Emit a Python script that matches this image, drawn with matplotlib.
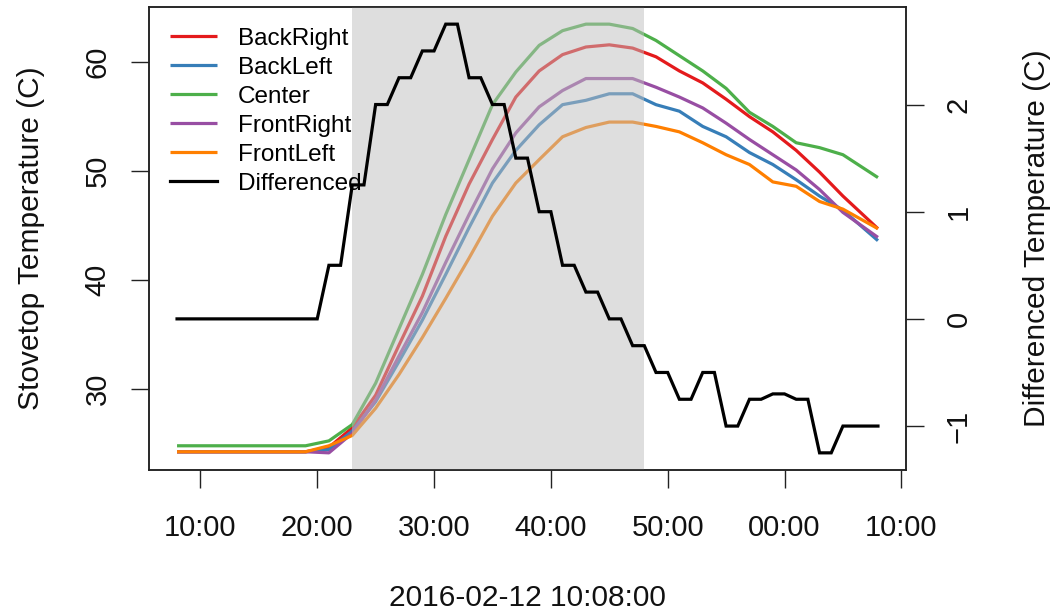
import numpy as np
import pandas as pd
import matplotlib
matplotlib.use('Agg')
import matplotlib.pyplot as plt
import matplotlib.dates as mdates

plt.rcParams['font.family'] = ['Liberation Sans', 'DejaVu Sans']

start = pd.Timestamp('2016-02-12 10:00:00')

# stovetop sensor readings, minutes after 10:00
temp_minutes = [8, 19, 21, 23, 25, 27, 29, 31, 33, 35, 37, 39, 41, 43, 45,
                47, 49, 51, 53, 55, 57, 59, 61, 63, 65, 68]
back_right = [24.2, 24.2, 24.6, 26.4, 29.4, 34.0, 38.5, 44.0, 48.8, 52.9, 56.8, 59.2, 60.7,
              61.4, 61.6, 61.3, 60.5, 59.2, 58.1, 56.6, 55.0, 53.6, 51.9, 49.9, 47.7, 44.7]
back_left = [24.2, 24.2, 24.4, 26.1, 28.8, 32.5, 36.3, 40.5, 44.8, 48.9, 51.9, 54.25, 56.1,
             56.5, 57.1, 57.1, 56.1, 55.5, 54.1, 53.15, 51.7, 50.6, 49.2, 47.7, 46.4, 43.6]
center = [24.75, 24.75, 25.2, 26.7, 30.5, 35.5, 40.5, 46.0, 51.05, 56.1, 59.1, 61.55, 62.9,
          63.5, 63.5, 63.1, 62.0, 60.6, 59.2, 57.6, 55.4, 54.1, 52.6, 52.15, 51.5, 49.4]
front_right = [24.2, 24.2, 24.1, 25.9, 28.95, 33.0, 37.0, 41.6, 46.0, 50.2, 53.5, 55.9, 57.4,
               58.5, 58.5, 58.5, 57.7, 56.8, 55.8, 54.4, 52.9, 51.5, 50.1, 48.3, 46.2, 43.9]
front_left = [24.2, 24.2, 24.75, 25.7, 28.2, 31.3, 34.7, 38.3, 42.0, 45.85, 48.9, 51.05, 53.15,
              54.0, 54.5, 54.5, 54.1, 53.6, 52.6, 51.5, 50.6, 49.0, 48.6, 47.2, 46.5, 44.7]

# differenced series, one value per minute from 10:08 to 11:08
diff_minutes = list(range(8, 69))
differenced = [0, 0, 0, 0, 0, 0, 0, 0, 0, 0, 0, 0, 0,
               0.5, 0.5, 1.25, 1.25, 2.0, 2.0, 2.25, 2.25, 2.5, 2.5, 2.75, 2.75,
               2.25, 2.25, 2.0, 2.0, 1.5, 1.5, 1.0, 1.0, 0.5, 0.5, 0.25, 0.25,
               0, 0, -0.25, -0.25, -0.5, -0.5, -0.75, -0.75, -0.5, -0.5,
               -1.0, -1.0, -0.75, -0.75, -0.7, -0.7, -0.75, -0.75, -1.25, -1.25,
               -1.0, -1.0, -1.0, -1.0]

burner_on = (23, 48)

series = [('BackRight', back_right, '#E41A1C'),
          ('BackLeft', back_left, '#377EB8'),
          ('Center', center, '#4DAF4A'),
          ('FrontRight', front_right, '#984EA3'),
          ('FrontLeft', front_left, '#FF7F00')]

t_temp = start + pd.to_timedelta(temp_minutes, unit='m')
t_diff = start + pd.to_timedelta(diff_minutes, unit='m')

fig = plt.figure(figsize=(10.54, 6.16), dpi=100)
ax = fig.add_axes([149 / 1054, 1 - 470 / 616, 757 / 1054, 463 / 616])

handles = []
for name, vals, col in series:
    h, = ax.plot(t_temp, vals, color=col, lw=2.3, label=name,
                 solid_joinstyle='round', solid_capstyle='butt')
    handles.append(h)

ax.axvspan(start + pd.Timedelta(minutes=burner_on[0]),
           start + pd.Timedelta(minutes=burner_on[1]),
           color='#BEBEBE', alpha=0.5, lw=0, zorder=3)

# R-style 4% padding on every axis
def padded(lo, hi):
    d = (hi - lo) * 0.04
    return lo - d, hi + d

all_temps = np.concatenate([back_right, back_left, center, front_right, front_left])
ax.set_ylim(*padded(all_temps.min(), all_temps.max()))
t0, t1 = t_diff[0], t_diff[-1]
span = (t1 - t0) * 0.04
ax.set_xlim(t0 - span, t1 + span)

ax2 = ax.twinx()
h, = ax2.plot(t_diff, differenced, color='black', lw=2.3, label='Differenced',
              solid_joinstyle='miter')
handles.append(h)
ax2.set_ylim(*padded(min(differenced), max(differenced)))
ax2.set_yticks([-1, 0, 1, 2])

ax.set_yticks([30, 40, 50, 60])
ax.xaxis.set_major_locator(mdates.MinuteLocator(byminute=[0, 10, 20, 30, 40, 50]))
ax.xaxis.set_major_formatter(mdates.DateFormatter('%M:%S'))

for a in (ax, ax2):
    for s in a.spines.values():
        s.set_linewidth(1.1)
        s.set_color('#222222')
    a.tick_params(length=13, width=1.0, color='#222222', labelsize=21,
                  labelcolor='#111111')

ax.tick_params(axis='x', pad=19)
ax.tick_params(axis='y', pad=14, labelrotation=90)
ax2.tick_params(axis='y', pad=15, labelrotation=90)
for lab in ax.get_yticklabels() + ax2.get_yticklabels():
    lab.set_va('center')

ax.set_xlabel('2016-02-12 10:08:00', fontsize=21.5, color='#111111')
ax.set_ylabel('Stovetop Temperature (C)', fontsize=21.5, color='#111111')
ax2.set_ylabel('Differenced Temperature (C)', fontsize=21.5, color='#111111')
ax.xaxis.set_label_coords(0.5, (470 - 598) / 463)
ax.xaxis.label.set_va('center')
ax.yaxis.set_label_coords((31 - 149) / 757, 0.5)
ax.yaxis.label.set_va('center')
ax2.yaxis.set_label_coords((1037 - 149) / 757, 0.5)
ax2.yaxis.label.set_va('center')

ax2.legend(handles=handles, loc='upper left', bbox_to_anchor=(0.0277, 0.9555),
           frameon=False, fontsize=17.5, handlelength=1.93, handletextpad=0.85,
           labelspacing=0.29, borderpad=0, borderaxespad=0)

fig.savefig('out.png', dpi=100)
